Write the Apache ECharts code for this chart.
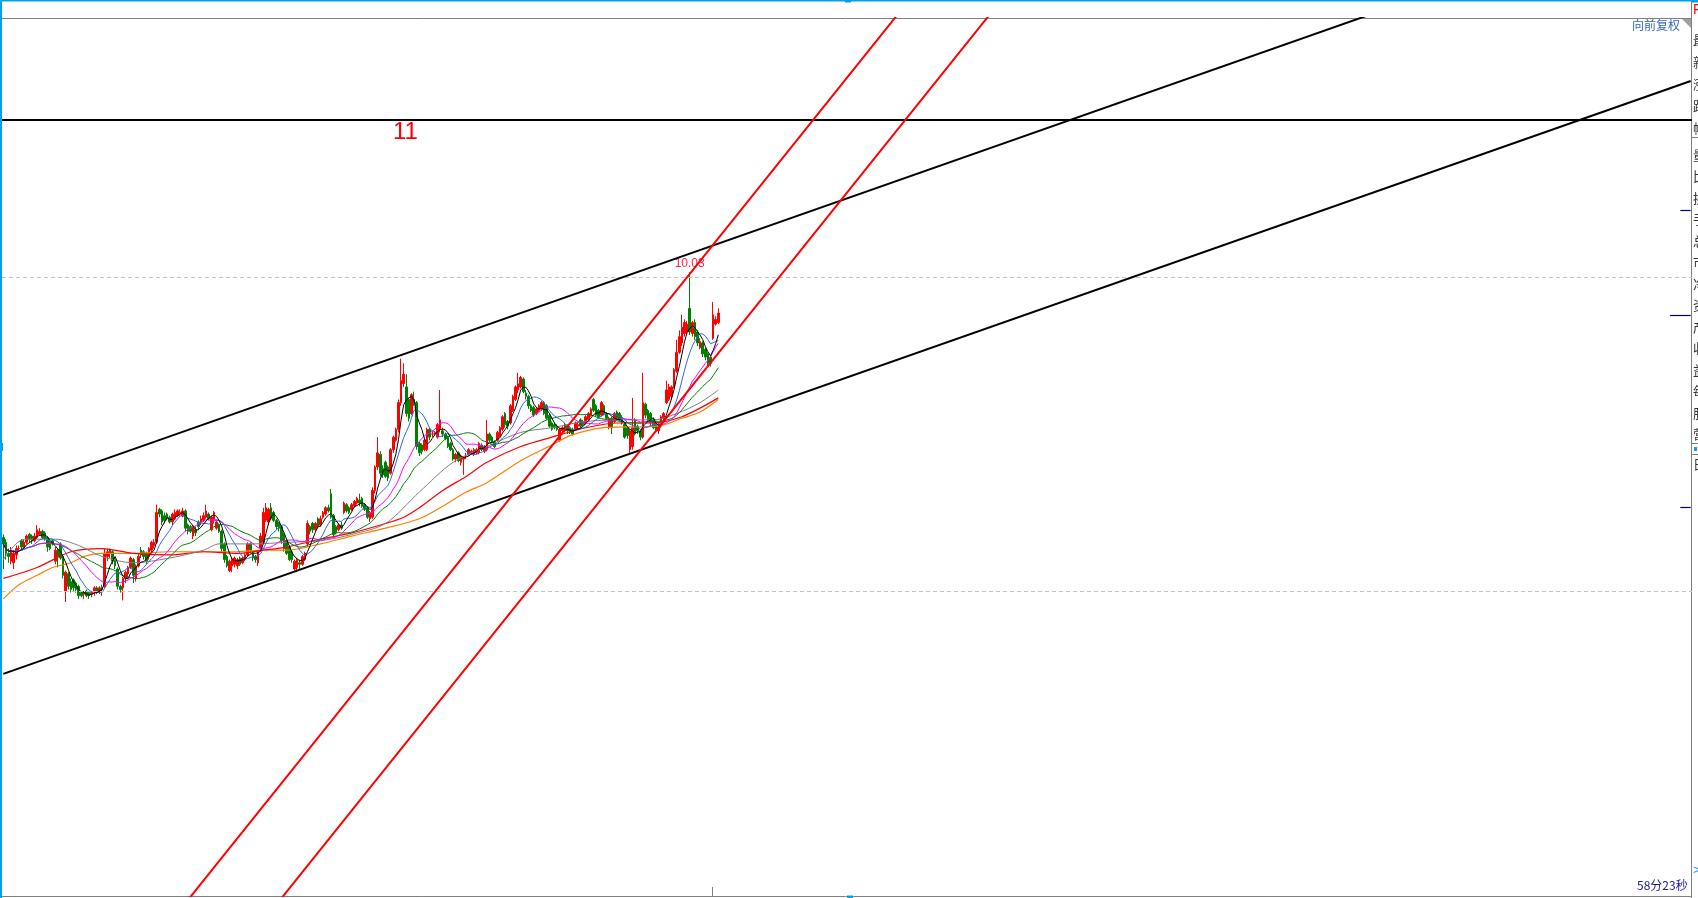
<!DOCTYPE html>
<html><head><meta charset="utf-8">
<script src="https://cdn.jsdelivr.net/npm/echarts@6/dist/echarts.min.js"></script>
<style>html,body{margin:0;padding:0;background:#fff;overflow:hidden}#c{width:1698px;height:898px}</style>
</head><body><div id="c"></div>
<script>
// ---------- data ----------
const opens = [
8.34,8.31,8.24,8.19,8.18,8.23,8.27,8.32,8.28,8.31,
8.36,8.35,8.32,8.34,8.36,8.38,8.37,8.34,8.31,8.32,
8.19,8.26,8.30,8.22,8.00,8.11,8.06,8.07,8.05,8.03,
7.99,7.98,8.00,7.99,7.98,8.00,8.02,7.99,8.02,8.03,
8.22,8.24,8.25,8.20,8.14,8.03,8.02,8.08,8.11,8.15,
8.20,8.08,8.16,8.26,8.25,8.24,8.22,8.26,8.29,8.31,
8.52,8.51,8.48,8.49,8.47,8.44,8.46,8.48,8.49,8.48,
8.51,8.42,8.41,8.35,8.39,8.44,8.44,8.45,8.47,8.49,
8.39,8.45,8.40,8.42,8.38,8.30,8.22,8.13,8.16,8.17,
8.16,8.21,8.18,8.20,8.23,8.30,8.24,8.22,8.18,8.27,
8.31,8.45,8.44,8.53,8.50,8.45,8.43,8.41,8.36,8.32,
8.28,8.25,8.14,8.15,8.18,8.17,8.20,8.30,8.41,8.43,
8.39,8.46,8.42,8.47,8.49,8.53,8.62,8.48,8.41,8.39,
8.42,8.50,8.55,8.53,8.52,8.54,8.56,8.58,8.59,8.55,
8.53,8.46,8.47,8.64,8.79,8.87,8.78,8.82,8.79,8.75,
8.90,8.96,9.03,9.20,9.32,9.30,9.22,9.13,9.22,9.20,
8.94,8.93,8.90,8.90,9.03,9.00,9.00,8.98,9.03,9.02,
9.00,8.98,8.94,8.90,8.84,8.88,8.82,8.84,8.86,8.87,
8.88,8.87,8.88,8.88,8.93,8.89,8.90,9.00,8.98,8.95,
8.96,8.99,9.03,9.13,9.08,9.07,9.15,9.22,9.28,9.30,
9.35,9.26,9.24,9.18,9.17,9.13,9.15,9.16,9.20,9.18,
9.12,9.07,9.06,9.05,8.96,9.02,9.06,9.05,9.04,9.03,
9.03,9.05,9.09,9.08,9.07,9.09,9.12,9.22,9.18,9.15,
9.12,9.18,9.13,9.04,9.10,9.08,9.14,9.13,9.10,9.06,
9.04,8.90,8.92,9.09,9.05,9.02,8.98,9.19,9.15,9.13,
9.09,9.06,9.02,9.05,9.10,9.20,9.22,9.24,9.30,9.40,
9.52,9.58,9.64,9.65,9.80,9.64,9.71,9.65,9.55,9.58,
9.54,9.51,9.49,9.61,9.70,9.71];
const closes = [
8.30,8.24,8.22,8.26,8.24,8.27,8.27,8.28,8.31,8.35,
8.33,8.32,8.35,8.39,8.38,8.34,8.33,8.28,8.27,8.30,
8.26,8.22,8.21,8.10,8.12,8.03,8.01,8.02,8.01,7.97,
7.97,7.99,7.97,7.97,7.99,8.02,8.00,8.02,8.01,8.24,
8.25,8.26,8.19,8.16,8.03,8.01,8.08,8.12,8.15,8.21,
8.10,8.16,8.22,8.23,8.22,8.19,8.27,8.31,8.31,8.50,
8.49,8.44,8.45,8.46,8.44,8.49,8.50,8.51,8.50,8.51,
8.40,8.38,8.38,8.41,8.37,8.41,8.46,8.48,8.51,8.46,
8.47,8.50,8.44,8.38,8.27,8.20,8.16,8.19,8.20,8.21,
8.20,8.17,8.21,8.23,8.30,8.26,8.21,8.20,8.25,8.35,
8.50,8.53,8.52,8.46,8.45,8.41,8.40,8.32,8.27,8.24,
8.20,8.20,8.19,8.20,8.17,8.22,8.24,8.43,8.38,8.39,
8.43,8.41,8.46,8.50,8.53,8.51,8.47,8.36,8.37,8.42,
8.40,8.56,8.51,8.50,8.55,8.57,8.59,8.56,8.54,8.52,
8.47,8.50,8.64,8.79,8.88,8.75,8.74,8.73,8.72,8.90,
8.98,9.03,9.20,9.34,9.38,9.13,9.10,9.25,9.20,8.92,
8.88,8.89,8.96,9.03,8.98,9.00,9.01,9.06,9.09,9.00,
8.97,8.92,8.90,8.84,8.87,8.83,8.86,8.85,8.86,8.90,
8.89,8.90,8.90,8.94,8.90,8.92,9.00,8.96,8.95,8.92,
9.01,9.04,9.11,9.06,9.05,9.18,9.24,9.30,9.32,9.36,
9.27,9.24,9.18,9.15,9.12,9.16,9.18,9.20,9.13,9.10,
9.05,9.03,9.04,9.03,9.03,9.04,9.02,9.02,9.01,9.00,
9.07,9.06,9.05,9.06,9.11,9.13,9.16,9.15,9.12,9.11,
9.20,9.13,9.10,9.10,9.04,9.13,9.10,9.09,9.07,8.98,
8.99,9.02,9.04,9.00,9.02,8.98,9.20,9.12,9.09,9.07,
9.04,9.03,9.05,9.11,9.13,9.28,9.30,9.30,9.41,9.52,
9.62,9.68,9.71,9.70,9.65,9.71,9.62,9.58,9.59,9.51,
9.49,9.45,9.45,9.76,9.73,9.77];
const lows = [
8.14,8.20,8.18,8.17,8.14,8.20,8.25,8.26,8.27,8.30,
8.31,8.30,8.31,8.33,8.35,8.33,8.32,8.25,8.26,8.29,
8.17,8.15,8.20,8.08,7.93,8.01,7.99,8.00,7.99,7.95,
7.96,7.95,7.96,7.95,7.96,7.97,7.98,7.98,7.97,8.02,
8.19,8.21,8.17,8.14,8.01,7.99,7.94,8.05,8.08,8.14,
8.05,8.06,8.15,8.21,8.20,8.17,8.20,8.24,8.27,8.30,
8.47,8.42,8.43,8.45,8.43,8.42,8.45,8.47,8.48,8.47,
8.38,8.36,8.37,8.33,8.35,8.39,8.42,8.44,8.46,8.45,
8.38,8.43,8.39,8.37,8.25,8.18,8.15,8.12,8.12,8.15,
8.14,8.16,8.17,8.19,8.22,8.24,8.19,8.18,8.16,8.26,
8.30,8.44,8.42,8.45,8.44,8.39,8.38,8.30,8.25,8.23,
8.19,8.18,8.13,8.13,8.14,8.16,8.19,8.28,8.36,8.37,
8.38,8.40,8.41,8.46,8.48,8.50,8.46,8.35,8.36,8.38,
8.39,8.49,8.50,8.49,8.51,8.53,8.55,8.54,8.53,8.51,
8.46,8.44,8.46,8.62,8.77,8.73,8.72,8.72,8.70,8.74,
8.88,8.95,9.01,9.18,9.30,9.11,9.08,9.12,9.18,8.90,
8.86,8.87,8.89,8.89,8.96,8.98,8.99,8.97,9.01,8.98,
8.96,8.91,8.89,8.83,8.82,8.82,8.80,8.74,8.84,8.86,
8.87,8.86,8.87,8.87,8.89,8.88,8.89,8.95,8.94,8.91,
8.95,8.98,9.02,9.04,9.03,9.06,9.14,9.21,9.26,9.29,
9.26,9.22,9.16,9.14,9.11,9.12,9.14,9.15,9.12,9.09,
9.04,9.02,9.03,9.02,8.95,9.00,9.01,9.00,9.00,8.99,
9.02,9.03,9.04,9.05,9.06,9.08,9.11,9.14,9.11,9.10,
9.11,9.12,9.09,9.03,9.00,9.07,9.09,9.08,9.06,8.97,
8.97,8.88,8.90,8.99,9.00,8.96,8.97,9.10,9.08,9.05,
9.03,9.01,9.00,9.04,9.08,9.19,9.21,9.22,9.29,9.39,
9.51,9.56,9.62,9.63,9.63,9.62,9.60,9.56,9.54,9.49,
9.47,9.43,9.43,9.60,9.69,9.70];
const highs = [
8.36,8.33,8.27,8.28,8.26,8.29,8.29,8.33,8.33,8.36,
8.37,8.36,8.37,8.42,8.40,8.39,8.38,8.35,8.32,8.33,
8.28,8.27,8.31,8.23,8.13,8.12,8.08,8.08,8.06,8.04,
8.00,8.00,8.01,8.00,8.00,8.03,8.03,8.03,8.04,8.27,
8.27,8.27,8.26,8.21,8.15,8.04,8.09,8.13,8.16,8.22,
8.21,8.17,8.24,8.28,8.26,8.25,8.28,8.32,8.33,8.55,
8.53,8.52,8.50,8.50,8.48,8.50,8.52,8.52,8.52,8.53,
8.52,8.43,8.42,8.42,8.41,8.45,8.48,8.50,8.55,8.50,
8.48,8.51,8.45,8.43,8.39,8.31,8.23,8.20,8.21,8.22,
8.21,8.22,8.22,8.24,8.31,8.31,8.25,8.23,8.26,8.37,
8.53,8.56,8.53,8.56,8.51,8.46,8.44,8.42,8.37,8.33,
8.29,8.26,8.20,8.21,8.20,8.23,8.25,8.45,8.42,8.44,
8.44,8.47,8.48,8.51,8.54,8.55,8.65,8.49,8.42,8.43,
8.44,8.57,8.56,8.54,8.56,8.58,8.60,8.62,8.60,8.56,
8.54,8.51,8.66,8.80,8.98,8.89,8.80,8.83,8.80,8.91,
8.99,9.04,9.22,9.48,9.45,9.38,9.23,9.26,9.27,9.21,
8.95,8.94,8.97,9.04,9.04,9.02,9.02,9.07,9.28,9.04,
9.01,8.99,8.95,8.91,8.88,8.89,8.87,8.86,8.88,8.91,
8.90,8.91,8.91,8.95,8.94,8.93,9.09,9.01,8.99,8.96,
9.02,9.05,9.12,9.14,9.09,9.19,9.25,9.31,9.39,9.37,
9.36,9.28,9.25,9.19,9.18,9.17,9.19,9.21,9.21,9.19,
9.13,9.08,9.07,9.06,9.04,9.05,9.07,9.06,9.05,9.04,
9.08,9.08,9.10,9.09,9.12,9.14,9.17,9.23,9.19,9.16,
9.21,9.19,9.14,9.11,9.11,9.14,9.15,9.14,9.12,9.07,
9.05,9.03,9.23,9.10,9.06,9.03,9.39,9.20,9.16,9.14,
9.10,9.07,9.07,9.12,9.14,9.34,9.32,9.31,9.42,9.60,
9.66,9.76,9.73,9.72,10.03,9.72,9.73,9.66,9.61,9.59,
9.55,9.52,9.50,9.84,9.75,9.80];

// long moving averages: [candle index, price]
const maGray = [[0,8.20],[8,8.33],[20,8.33],[29,8.29],[38,8.22],[50,8.18],[64,8.21],[77,8.26],[83,8.30],[96,8.30],[109,8.31],[122,8.32],[134,8.36],[147,8.43],[160,8.63],[173,8.82],[186,8.92],[199,9.01],[211,9.04],[224,9.08],[240,9.09],[250,9.09],[259,9.13],[268,9.20],[275,9.28]];
const maRed = [[0,8.08],[13,8.15],[26,8.25],[38,8.27],[50,8.24],[64,8.23],[77,8.25],[90,8.24],[100,8.26],[109,8.28],[122,8.33],[134,8.37],[147,8.43],[154,8.47],[160,8.53],[169,8.64],[178,8.73],[186,8.82],[199,8.92],[211,8.98],[224,9.04],[236,9.07],[249,9.07],[261,9.11],[275,9.23]];
const maOrange = [[0,7.95],[6,8.04],[13,8.10],[19,8.15],[26,8.18],[31,8.22],[38,8.24],[50,8.24],[64,8.25],[77,8.25],[90,8.25],[100,8.26],[109,8.26],[122,8.30],[134,8.35],[147,8.40],[160,8.46],[170,8.55],[178,8.63],[186,8.69],[199,8.83],[211,8.93],[218,8.99],[231,9.04],[252,9.05],[261,9.10],[268,9.14],[275,9.22]];

// drawn trend lines: [candle index, price]
const upperChannel = [[0,8.6125],[649,12.389]];
const lowerChannel = [[0,7.4724],[649,11.248]];
const redLine1 = [[60,5.8045],[360,12.003]];
const redLine2 = [[100,5.899],[390,11.891]];

const levelLine = 11;
const dashedLevels = [10, 8];
const priceMarks = [10.427, 9.758, 8.535];
const peakLabel = {index: 264, price: 10.03};
const slotCount = 650;

// ---------- chart ----------
const slots = Array.from({length: slotCount}, (_, i) => String(i + 1));
const kData = opens.map((o, i) => [o, closes[i], lows[i], highs[i]]);
function ma(n) {
  return closes.map((c, i) => {
    const s = Math.max(0, i - n + 1);
    let sum = 0;
    for (let k = s; k <= i; k++) sum += closes[k];
    return +(sum / (i - s + 1)).toFixed(4);
  });
}
function lineSeries(data, color, width, z, smooth) {
  return {type: 'line', data, showSymbol: false, symbol: 'none', smooth: smooth || false,
    lineStyle: {color, width}, z, silent: true, animation: false, clip: true};
}

const chart = echarts.init(document.getElementById('c'), null, {renderer: 'canvas'});
const rightCol1 = '最\n新\n涨\n跌\n幅';
const rightCol2 = '量\n比\n换\n手\n总\n市\n净\n资\n产\n收\n益\n每\n股\n营';

const navy = {color: '#000080', width: 1.2, type: 'solid'};

chart.setOption({
  animation: false,
  backgroundColor: '#ffffff',
  grid: {left: 2, top: 18, right: 6, bottom: 2, show: false},
  xAxis: {type: 'category', data: slots, show: false, boundaryGap: true},
  yAxis: {type: 'value', min: 6.0573, max: 11.6497, show: false, scale: true},
  tooltip: {show: false},
  series: [
    {
      type: 'candlestick', data: kData, barWidth: 2, barMinWidth: 2, z: 2, silent: true,
      itemStyle: {color: '#ff0000', color0: '#008000', borderColor: '#ff0000', borderColor0: '#008000', borderWidth: 1},
      markPoint: {
        symbol: 'circle', symbolSize: 0, silent: true, animation: false,
        data: [{coord: [peakLabel.index, peakLabel.price], value: peakLabel.price.toFixed(2)}],
        label: {show: true, position: 'top', distance: 3, color: '#ff2050', fontSize: 12,
          fontFamily: 'Liberation Sans, Arial, sans-serif', formatter: p => p.value}
      },
      markLine: {
        silent: true, symbol: 'none', animation: false, label: {show: false},
        data: [
          {yAxis: levelLine, lineStyle: {color: '#000000', width: 2, type: 'solid'}},
          ...dashedLevels.map(v => ({yAxis: v, lineStyle: {color: '#c4c4c4', width: 1, type: [4, 3]}})),
          [{coord: [645, priceMarks[0]], lineStyle: navy}, {coord: [649, priceMarks[0]]}],
          [{coord: [641, priceMarks[1]], lineStyle: navy}, {coord: [649, priceMarks[1]]}],
          [{coord: [645, priceMarks[2]], lineStyle: navy}, {coord: [649, priceMarks[2]]}]
        ]
      }
    },
    lineSeries(maOrange, '#ff7f00', 1.2, 3, 0.3),
    lineSeries(maRed, '#ff0000', 1.2, 3, 0.3),
    lineSeries(maGray, '#808080', 1, 3, 0.3),
    lineSeries(ma(30), '#008000', 1, 3),
    lineSeries(ma(20), '#ff00ff', 1, 3),
    lineSeries(ma(10), '#2f65e0', 1, 3),
    lineSeries(ma(5), '#000000', 1, 3),
    lineSeries(upperChannel, '#000000', 2, 5),
    lineSeries(lowerChannel, '#000000', 2, 5),
    lineSeries(redLine1, '#ff0000', 2, 5),
    lineSeries(redLine2, '#ff0000', 2, 5)
  ],
  graphic: [
    {type: 'line', silent: true, shape: {x1: 0, y1: 18.5, x2: 1691, y2: 18.5}, style: {stroke: '#808080', lineWidth: 1}},
    {type: 'line', silent: true, shape: {x1: 1691.5, y1: 0, x2: 1691.5, y2: 898}, style: {stroke: '#808080', lineWidth: 1}},
    {type: 'line', silent: true, shape: {x1: 0, y1: 896.5, x2: 1691, y2: 896.5}, style: {stroke: '#808080', lineWidth: 1}},
    {type: 'line', silent: true, shape: {x1: 712.5, y1: 887, x2: 712.5, y2: 896}, style: {stroke: '#808080', lineWidth: 1}},
    {type: 'line', silent: true, shape: {x1: 1691, y1: 137.5, x2: 1698, y2: 137.5}, style: {stroke: '#808080', lineWidth: 1}},
    {type: 'line', silent: true, shape: {x1: 1691, y1: 443.5, x2: 1698, y2: 443.5}, style: {stroke: '#808080', lineWidth: 1}},
    {type: 'line', silent: true, shape: {x1: 1691, y1: 454.5, x2: 1698, y2: 454.5}, style: {stroke: '#808080', lineWidth: 1}},
    {type: 'rect', silent: true, shape: {x: 1694, y: 447, width: 3, height: 4}, style: {fill: '#1e90ff'}},
    {type: 'rect', silent: true, shape: {x: 0, y: 0, width: 2, height: 898}, style: {fill: '#00a2e8'}},
    {type: 'rect', silent: true, shape: {x: 0, y: 0, width: 1698, height: 1.5}, style: {fill: '#00a2e8'}},
    {type: 'rect', silent: true, shape: {x: 0, y: 443, width: 3, height: 8}, style: {fill: '#00a2e8'}},
    {type: 'rect', silent: true, shape: {x: 845, y: 0, width: 6, height: 2.5}, style: {fill: '#00a2e8'}},
    {type: 'rect', silent: true, shape: {x: 847, y: 895.5, width: 6, height: 2.5}, style: {fill: '#00a2e8'}},
    {type: 'rect', silent: true, shape: {x: 1692, y: 0, width: 6, height: 2.5}, style: {fill: '#00a2e8'}},
    {type: 'polygon', silent: true, shape: {points: [[1682, 19], [1691, 19], [1691, 28]]}, style: {fill: '#a0a0a0'}},
    {type: 'text', silent: true, x: 1693, y: 3, style: {text: 'F', fill: '#ff0000', fontSize: 14, fontFamily: 'Liberation Sans, sans-serif'}},
    {type: 'text', silent: true, x: 1693, y: 29, style: {text: rightCol1, fill: '#333333', fontSize: 13, lineHeight: 22, fontFamily: 'Noto Sans CJK SC'}},
    {type: 'text', silent: true, x: 1693, y: 144, style: {text: rightCol2, fill: '#333333', fontSize: 13, lineHeight: 21.5, fontFamily: 'Noto Sans CJK SC'}},
    {type: 'text', silent: true, x: 1693, y: 458, style: {text: '日', fill: '#333333', fontSize: 13, fontFamily: 'Noto Sans CJK SC'}},
    {type: 'text', silent: true, x: 1693, y: 864, style: {text: '>', fill: '#1e90ff', fontSize: 13, fontFamily: 'Liberation Sans, sans-serif'}},
    {type: 'text', silent: true, x: 1632, y: 19, style: {text: '向前复权', fill: '#3366cc', fontSize: 12, fontFamily: 'Noto Sans CJK SC'}},
    {type: 'text', silent: true, x: 1637, y: 879, style: {text: '58分23秒', fill: '#1a1aa0', fontSize: 12, fontFamily: 'Noto Sans CJK SC'}},
    {type: 'text', silent: true, x: 393, y: 120, style: {text: '11', fill: '#ff0000', fontSize: 24, fontFamily: 'Liberation Sans, Arial, sans-serif'}}
  ]
});
</script>
</body></html>
